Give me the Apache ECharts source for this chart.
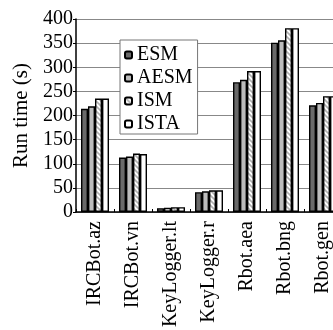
<!DOCTYPE html>
<html><head><meta charset="utf-8">
<script src="https://cdn.jsdelivr.net/npm/echarts@6/dist/echarts.min.js"></script>
<style>html,body{margin:0;padding:0;background:#fff}#c{width:333px;height:330px}</style>
</head><body><div id="c"></div>
<script>
const categories = ['IRCBot.az','IRCBot.vn','KeyLogger.lt','KeyLogger.r','Rbot.aea','Rbot.bng','Rbot.gen'];
const esm  = [214, 113, 8, 41, 269, 351, 221];
const aesm = [219, 115, 9, 43, 274, 356, 226];
const ism  = [235, 121, 10, 45, 292, 381, 240];
const ista = [235, 120, 10, 45, 292, 381, 240];
const yTicks = [0, 50, 100, 150, 200, 250, 300, 350, 400];

const pc = document.createElement('canvas');
pc.width = 5; pc.height = 5;
const g = pc.getContext('2d');
g.fillStyle = '#fff'; g.fillRect(0,0,5,5);
g.strokeStyle = '#b0b0b0'; g.lineWidth = 1.6;
g.beginPath();
g.moveTo(-1,-1); g.lineTo(6,6);
g.moveTo(-1,4); g.lineTo(1,6);
g.moveTo(4,-1); g.lineTo(6,1);
g.stroke();

const font = '"Liberation Serif", "Times New Roman", serif';
const chart = echarts.init(document.getElementById('c'), null, {renderer:'canvas'});
function mk(name, data, color){
  return {name, type:'bar', data, barWidth:7, barGap:'0%',
    itemStyle:{color, borderColor:'#000', borderWidth:1.4}, animation:false};
}
chart.setOption({
  animation:false,
  grid:{left:76, top:19, width:266, height:193, outerBoundsMode:'none', containLabel:false},
  legend:{
    orient:'vertical', left:120, top:40, padding:[5,5,0,4],
    itemWidth:7, itemHeight:7, itemGap:3,
    backgroundColor:'#fff', borderColor:'#777', borderWidth:1,
    textStyle:{fontFamily:font, fontSize:20, color:'#000'},
    data:['ESM','AESM','ISM','ISTA']
  },
  xAxis:{type:'category', data:categories,
    axisLine:{lineStyle:{color:'#000', width:1.5}},
    axisTick:{show:true, inside:true, length:3, lineStyle:{color:'#000'}},
    axisLabel:{rotate:90, fontFamily:font, fontSize:20, color:'#000', margin:9, interval:0, hideOverlap:false}
  },
  yAxis:{type:'value', min:0, max:400, interval:50,
    name:'Run time (s)', nameLocation:'middle', nameGap:37,
    nameTextStyle:{fontFamily:font, fontSize:21, color:'#000'},
    axisLine:{show:true, lineStyle:{color:'#000', width:1.5}},
    axisTick:{show:true, length:3, lineStyle:{color:'#000'}},
    axisLabel:{fontFamily:font, fontSize:20, color:'#000', margin:3,
      formatter:v=> yTicks.includes(v)? String(v):''},
    splitLine:{show:true, lineStyle:{color:'#888', width:1}}
  },
  series:[
    mk('ESM', esm, '#6a6a6a'),
    mk('AESM', aesm, '#bcbcbc'),
    mk('ISM', ism, {image:pc, repeat:'repeat'}),
    mk('ISTA', ista, '#ffffff')
  ]
});
</script></body></html>
